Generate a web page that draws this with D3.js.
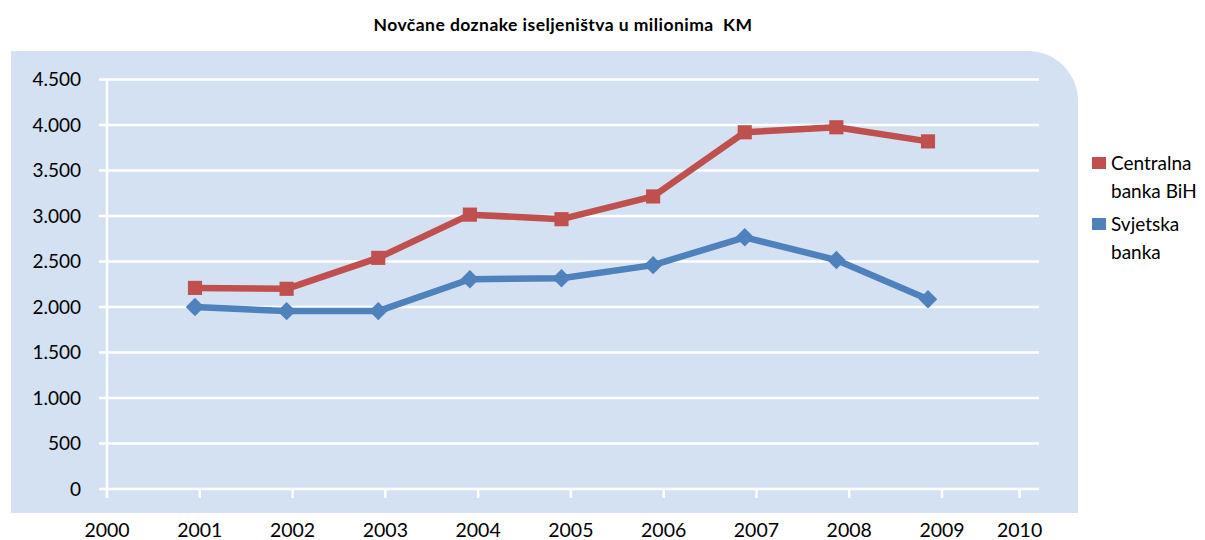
<!DOCTYPE html>
<html>
<head>
<meta charset="utf-8">
<script src="https://cdn.jsdelivr.net/npm/d3@7/dist/d3.min.js"></script>
<style>
  html, body { margin: 0; padding: 0; background: #ffffff; }
  svg { display: block; font-family: Lato, "Open Sans", sans-serif; }
</style>
</head>
<body>
<svg id="chart" width="1205" height="540"></svg>
<script>
// Remittances (millions KM) by year, two sources
const years = [2001, 2002, 2003, 2004, 2005, 2006, 2007, 2008, 2009];
const centralnaBanka = [2210, 2200, 2540, 3015, 2965, 3215, 3920, 3975, 3820];
const svjetskaBanka = [2000, 1955, 1955, 2305, 2315, 2460, 2766, 2516, 2085];
const seriesNames = ["Centralna banka BiH", "Svjetska banka"];
const seriesColors = ["#C0504D", "#4F81BD"];
const yTicks = [0, 500, 1000, 1500, 2000, 2500, 3000, 3500, 4000, 4500];
const xTickYears = [2000, 2001, 2002, 2003, 2004, 2005, 2006, 2007, 2008, 2009];
const lastTickYear = 2010;
const title = "Novčane doznake iseljeništva u milionima  KM";

const svg = d3.select("#chart");

// Plot frame
const bg = { left: 11, top: 51, right: 1078, bottom: 513, r: 50 };
const plot = { left: 107, right: 1039, top: 79.5, bottom: 489 };

const fmt = d3.formatLocale({ decimal: ",", thousands: ".", grouping: [3], currency: ["", ""] }).format(",d");

// Background panel with rounded top-right corner
svg.append("path")
  .attr("d", `M${bg.left},${bg.top} H${bg.right - bg.r} A${bg.r},${bg.r} 0 0 1 ${bg.right},${bg.top + bg.r} V${bg.bottom} H${bg.left} Z`)
  .attr("fill", "#D3E1F3");

// Scales
const y = d3.scaleLinear().domain([0, 4500]).range([plot.bottom, plot.top]);
const xAxisScale = d3.scaleLinear().domain([2000, 2009]).range([107, 942]);
const x = d3.scaleLinear().domain([2001, 2009]).range([195, 928]);

// Horizontal gridlines (with small outward ticks)
svg.append("g").selectAll("line").data(yTicks).join("line")
  .attr("x1", plot.left - 8).attr("x2", plot.right)
  .attr("y1", d => y(d)).attr("y2", d => y(d))
  .attr("stroke", "#ffffff").attr("stroke-width", 2.5);

// Vertical axis line
svg.append("line")
  .attr("x1", plot.left).attr("x2", plot.left)
  .attr("y1", plot.top).attr("y2", plot.bottom + 9)
  .attr("stroke", "#ffffff").attr("stroke-width", 2.5);

// Year tick positions
const tickPositions = xTickYears.map(v => ({ label: String(v), px: xAxisScale(v) }))
  .concat([{ label: String(lastTickYear), px: x(lastTickYear) }]);

svg.append("g").selectAll("line").data(tickPositions).join("line")
  .attr("x1", d => d.px).attr("x2", d => d.px)
  .attr("y1", plot.bottom).attr("y2", plot.bottom + 9)
  .attr("stroke", "#ffffff").attr("stroke-width", 2.5);

// Y labels
svg.append("g").selectAll("text").data(yTicks).join("text")
  .attr("x", 81).attr("y", d => y(d))
  .attr("dy", "0.35em")
  .attr("text-anchor", "end")
  .attr("font-size", 19)
  .attr("fill", "#000")
  .text(d => fmt(d));

// X labels
svg.append("g").selectAll("text").data(tickPositions).join("text")
  .attr("x", d => d.px).attr("y", 537)
  .attr("text-anchor", "middle")
  .attr("font-size", 19.5)
  .attr("fill", "#000")
  .text(d => d.label);

// Series
const series = [
  { name: seriesNames[0], values: centralnaBanka, color: seriesColors[0], marker: "square" },
  { name: seriesNames[1], values: svjetskaBanka, color: seriesColors[1], marker: "diamond" }
];

const line = d3.line().x(d => x(d.year)).y(d => y(d.value));

series.forEach(s => {
  const pts = years.map((yr, i) => ({ year: yr, value: s.values[i] }));
  svg.append("path")
    .datum(pts)
    .attr("d", line)
    .attr("fill", "none")
    .attr("stroke", s.color)
    .attr("stroke-width", 6.5)
    .attr("stroke-linejoin", "round");
  const markerPath = s.marker === "square"
    ? d3.symbol().type(d3.symbolSquare).size(200)()
    : d3.symbol().type(d3.symbolSquare).size(170)();
  svg.append("g").selectAll("path").data(pts).join("path")
    .attr("transform", d => `translate(${x(d.year)},${y(d.value)})` + (s.marker === "diamond" ? " rotate(45)" : ""))
    .attr("d", markerPath)
    .attr("fill", s.color);
});

// Title
svg.append("text")
  .attr("x", 563).attr("y", 31)
  .attr("text-anchor", "middle")
  .attr("font-size", 17.5)
  .attr("font-weight", "bold")
  .attr("letter-spacing", 0.45)
  .style("white-space", "pre")
  .attr("fill", "#000")
  .text(title);

// Legend
const legend = [
  { lines: ["Centralna", "banka BiH"], color: seriesColors[0], top: 157 },
  { lines: ["Svjetska", "banka"], color: seriesColors[1], top: 218 }
];
const lg = svg.append("g");
legend.forEach(l => {
  lg.append("rect").attr("x", 1092).attr("y", l.top).attr("width", 14).attr("height", 12).attr("fill", l.color);
  l.lines.forEach((t, i) => {
    lg.append("text")
      .attr("x", 1111).attr("y", l.top + 13 + i * 28)
      .attr("font-size", 19)
      .attr("fill", "#000")
      .text(t);
  });
});
</script>
</body>
</html>
